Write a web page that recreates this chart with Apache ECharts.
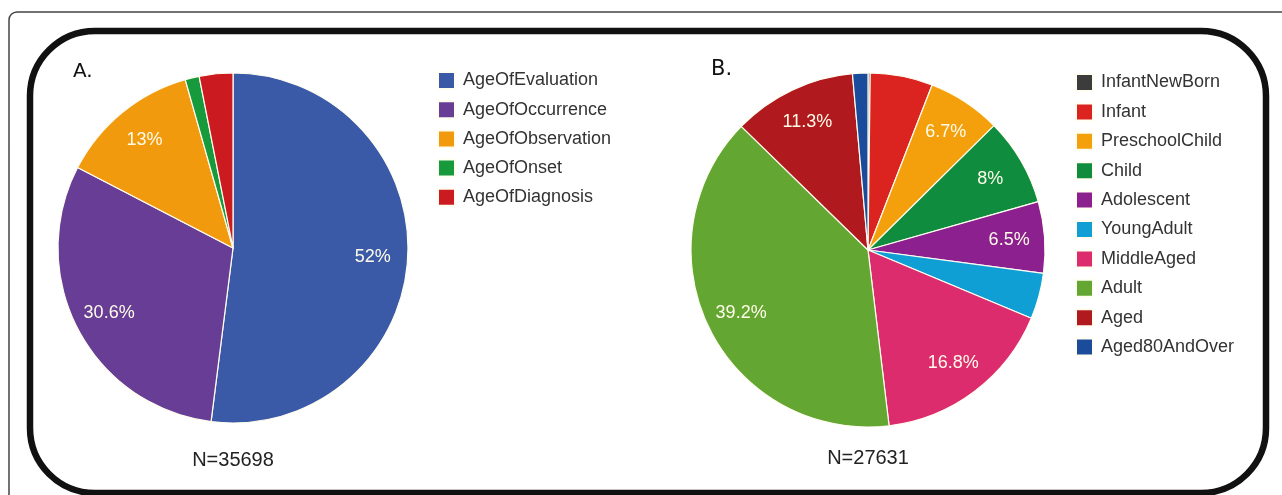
<!DOCTYPE html>
<html>
<head>
<meta charset="utf-8">
<script src="https://cdn.jsdelivr.net/npm/echarts@6/dist/echarts.min.js"></script>
<style>
  html, body { margin: 0; padding: 0; background: #fff; }
  #chart { width: 1282px; height: 495px; }
</style>
</head>
<body>
<div id="chart"></div>
<script>
// panel A: age attribute usage
const namesA = ['AgeOfEvaluation', 'AgeOfOccurrence', 'AgeOfObservation', 'AgeOfOnset', 'AgeOfDiagnosis'];
const valuesA = [52, 30.6, 13, 1.3, 3.1];
const colorsA = ['#3a5aa8', '#673d95', '#f29a0e', '#169a3c', '#cc1b20'];
const totalA = 35698;

// panel B: age groups
const namesB = ['InfantNewBorn', 'Infant', 'PreschoolChild', 'Child', 'Adolescent',
  'YoungAdult', 'MiddleAged', 'Adult', 'Aged', 'Aged80AndOver'];
const valuesB = [0.2, 5.7, 6.7, 8, 6.5, 4.2, 16.8, 39.2, 11.3, 1.4];
const colorsB = ['#3c3c3c', '#db2320', '#f4a00c', '#108c3e', '#8b208e',
  '#109fd4', '#dc2c6e', '#63a631', '#b0191d', '#1b4c9c'];
const totalB = 27631;

const toData = (names, values, colors) =>
  names.map((n, i) => ({ name: n, value: values[i], itemStyle: { color: colors[i] } }));

// only slices of 6% or more get a percentage inside
const pctLabel = p => (p.value >= 6 ? p.value + '%' : '');

const baseFont = '"Liberation Sans", Arial, sans-serif';

function pieSeries(center, r, data) {
  return {
    type: 'pie',
    center: center,
    radius: [0, r],
    startAngle: 90,
    clockwise: true,
    label: { show: false },
    labelLine: { show: false },
    emphasis: { disabled: true },
    itemStyle: { borderColor: '#fffdf0', borderWidth: 1.2 },
    data: data
  };
}

// transparent ring used only to place labels at ~0.78 radius
function labelSeries(center, r, names, values) {
  return {
    type: 'pie',
    center: center,
    radius: [r * 0.565, r],
    startAngle: 90,
    clockwise: true,
    silent: true,
    emphasis: { disabled: true },
    itemStyle: { color: 'rgba(0,0,0,0)', borderWidth: 0 },
    label: {
      show: true,
      position: 'inside',
      formatter: pctLabel,
      color: '#fffcea',
      fontSize: 18,
      fontFamily: baseFont
    },
    labelLine: { show: false },
    data: names.map((n, i) => ({ name: n, value: values[i] }))
  };
}

function legendFor(names, left, top, gap) {
  return {
    data: names,
    orient: 'vertical',
    left: left,
    top: top,
    padding: 0,
    icon: 'rect',
    itemWidth: 17,
    itemHeight: 17,
    itemGap: gap,
    selectedMode: false,
    textStyle: {
      fontSize: 18,
      lineHeight: 17,
      color: '#333',
      fontFamily: baseFont,
      padding: [0, 0, 0, 3]
    }
  };
}

const chart = echarts.init(document.getElementById('chart'));
chart.setOption({
  animation: false,
  backgroundColor: '#fff',
  legend: [
    legendFor(namesA, 437, 71, 10.2),
    legendFor(namesB, 1075, 73, 10.4)
  ],
  series: [
    pieSeries([233, 248], 175, toData(namesA, valuesA, colorsA)),
    pieSeries([868, 250], 177, toData(namesB, valuesB, colorsB)),
    labelSeries([233, 248], 175, namesA, valuesA),
    labelSeries([868, 250], 177, namesB, valuesB)
  ],
  graphic: [
    {
      type: 'rect',
      shape: { x: 9, y: 12, width: 1300, height: 500, r: 8 },
      style: { fill: 'none', stroke: '#444', lineWidth: 1.5 }
    },
    {
      type: 'rect',
      shape: { x: 30, y: 31, width: 1236, height: 462, r: 65 },
      style: { fill: 'none', stroke: '#111', lineWidth: 6.5 }
    },
    {
      type: 'text',
      style: { text: 'A.', x: 73, y: 72, textVerticalAlign: 'middle', fontSize: 20, fontFamily: '"DejaVu Sans", sans-serif', fill: '#111' }
    },
    {
      type: 'text',
      style: { text: 'B.', x: 711, y: 70, textVerticalAlign: 'middle', fontSize: 21, fontFamily: '"DejaVu Sans", sans-serif', fill: '#111' }
    },
    {
      type: 'text',
      style: { text: 'N=' + totalA, x: 233, y: 460, textAlign: 'center', textVerticalAlign: 'middle', fontSize: 20, fontFamily: baseFont, fill: '#222' }
    },
    {
      type: 'text',
      style: { text: 'N=' + totalB, x: 868, y: 458, textAlign: 'center', textVerticalAlign: 'middle', fontSize: 20, fontFamily: baseFont, fill: '#222' }
    }
  ]
});
</script>
</body>
</html>
